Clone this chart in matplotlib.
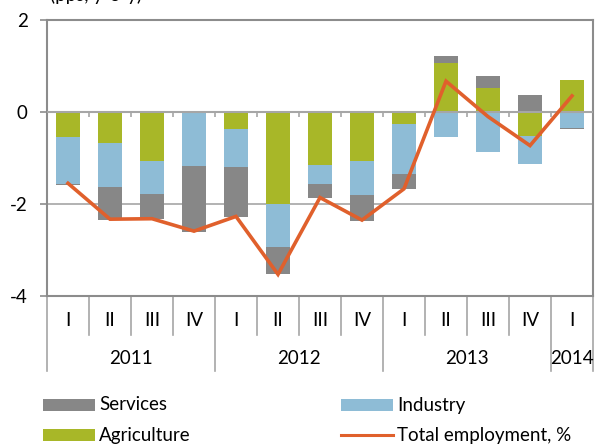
import matplotlib
matplotlib.use("Agg")
import matplotlib.pyplot as plt
import numpy as np
from matplotlib.patches import Rectangle
from matplotlib.lines import Line2D

plt.rcParams['font.family'] = ['Lato', 'DejaVu Sans']

quarters = ["I", "II", "III", "IV", "I", "II", "III", "IV", "I", "II", "III", "IV", "I"]
years = ["2011", "2012", "2013", "2014"]
year_counts = [4, 4, 4, 1]

agriculture = [-0.54, -0.68, -1.07, 0.02, -0.36, -2.01, -1.15, -1.07, -0.26, 1.06, 0.52, -0.52, 0.69]
industry    = [-1.03, -0.95, -0.71, -1.17, -0.83, -0.92, -0.42, -0.74, -1.09, -0.55, -0.88, -0.60, -0.34]
services    = [-0.02, -0.71, -0.55, -1.43, -1.09, -0.59, -0.31, -0.55, -0.33, 0.16, 0.26, 0.38, -0.02]
total       = [-1.55, -2.33, -2.32, -2.59, -2.27, -3.53, -1.86, -2.35, -1.67, 0.67, -0.10, -0.73, 0.35]

c_serv = "#878787"
c_ind = "#8ebcd6"
c_agr = "#a8b728"
c_tot = "#e0602c"
c_axis = "#8c8c8c"
FS = 13.5

W, H = 595, 445
fig = plt.figure(figsize=(W / 100, H / 100), dpi=100)
L, R, T, B = 47, 593, 20, 296
ax = fig.add_axes([L / W, 1 - B / H, (R - L) / W, (B - T) / H])

n = len(quarters)
x = np.arange(n) + 0.5
bw = 0.57

pos_bottom = np.zeros(n)
neg_bottom = np.zeros(n)
for vals, col in [(agriculture, c_agr), (industry, c_ind), (services, c_serv)]:
    v = np.array(vals)
    bottom = np.where(v >= 0, pos_bottom, neg_bottom)
    ax.bar(x, v, bw, bottom=bottom, color=col, zorder=3, linewidth=0)
    pos_bottom = pos_bottom + np.where(v >= 0, v, 0)
    neg_bottom = neg_bottom + np.where(v < 0, v, 0)

ax.plot(x, total, color=c_tot, lw=2.6, zorder=5, solid_joinstyle='miter')

ax.set_xlim(0, n)
ax.set_ylim(-4, 2)
ax.set_yticks([2, 0, -2, -4])
ax.set_yticklabels(["2", "0", "-2", "-4"], fontsize=FS)
ax.tick_params(axis='y', direction='out', length=5, width=1.2, color=c_axis, pad=9)
ax.set_xticks([])

for s in ax.spines.values():
    s.set_color(c_axis)
    s.set_linewidth(1.5)

# gridlines
ax.axhline(-2, color="#a6a6a6", lw=1.2, zorder=1)
ax.axhline(0, color="#a6a6a6", lw=1.5, zorder=4)
ax.vlines(np.arange(1, n), -0.11, 0, color="#a6a6a6", lw=1.2, zorder=4)

# category labels below
tr = ax.get_xaxis_transform()
qy = (B - 321) / (B - T)
yy = (B - 358) / (B - T)
q_sep = (B - 335) / (B - T)
y_sep = (B - 371) / (B - T)
for i, q in enumerate(quarters):
    ax.text(i + 0.5, qy, q, transform=tr, ha='center', va='center', fontsize=FS)
year_bounds = np.concatenate([[0], np.cumsum(year_counts)])
for k in range(n + 1):
    bottom_y = y_sep if k in year_bounds else q_sep
    ax.add_line(Line2D([k, k], [0, bottom_y], transform=tr, color="#a6a6a6", lw=1.2, clip_on=False))
for j, yr in enumerate(years):
    ax.text((year_bounds[j] + year_bounds[j + 1]) / 2, yy, yr, transform=tr,
            ha='center', va='center', fontsize=FS)

# title (cut off at the top edge, as in the reference)
fig.text(50 / W, 1 - 0.5 / H, "(pps, y-o-y)", fontsize=FS, va='baseline', ha='left')

# legend
def fx(px):
    return px / W

def fy(py):
    return 1 - py / H

legend_items = [
    ("patch", c_serv, "Services", 43, 405),
    ("patch", c_ind, "Industry", 341, 405),
    ("patch", c_agr, "Agriculture", 43, 435),
    ("line", c_tot, "Total employment, %", 341, 435),
]
for kind, col, lab, px0, pyc in legend_items:
    if kind == "patch":
        fig.add_artist(Rectangle((fx(px0), fy(pyc + 6)), 52 / W, 12 / H,
                                 transform=fig.transFigure, color=col, lw=0))
    else:
        fig.add_artist(Line2D([fx(px0), fx(px0 + 52)], [fy(pyc), fy(pyc)],
                              transform=fig.transFigure, color=col, lw=2.2))
    fig.text(fx(px0 + 56), fy(pyc), lab, fontsize=FS, va='center', ha='left')

fig.savefig("out.png", dpi=100)
